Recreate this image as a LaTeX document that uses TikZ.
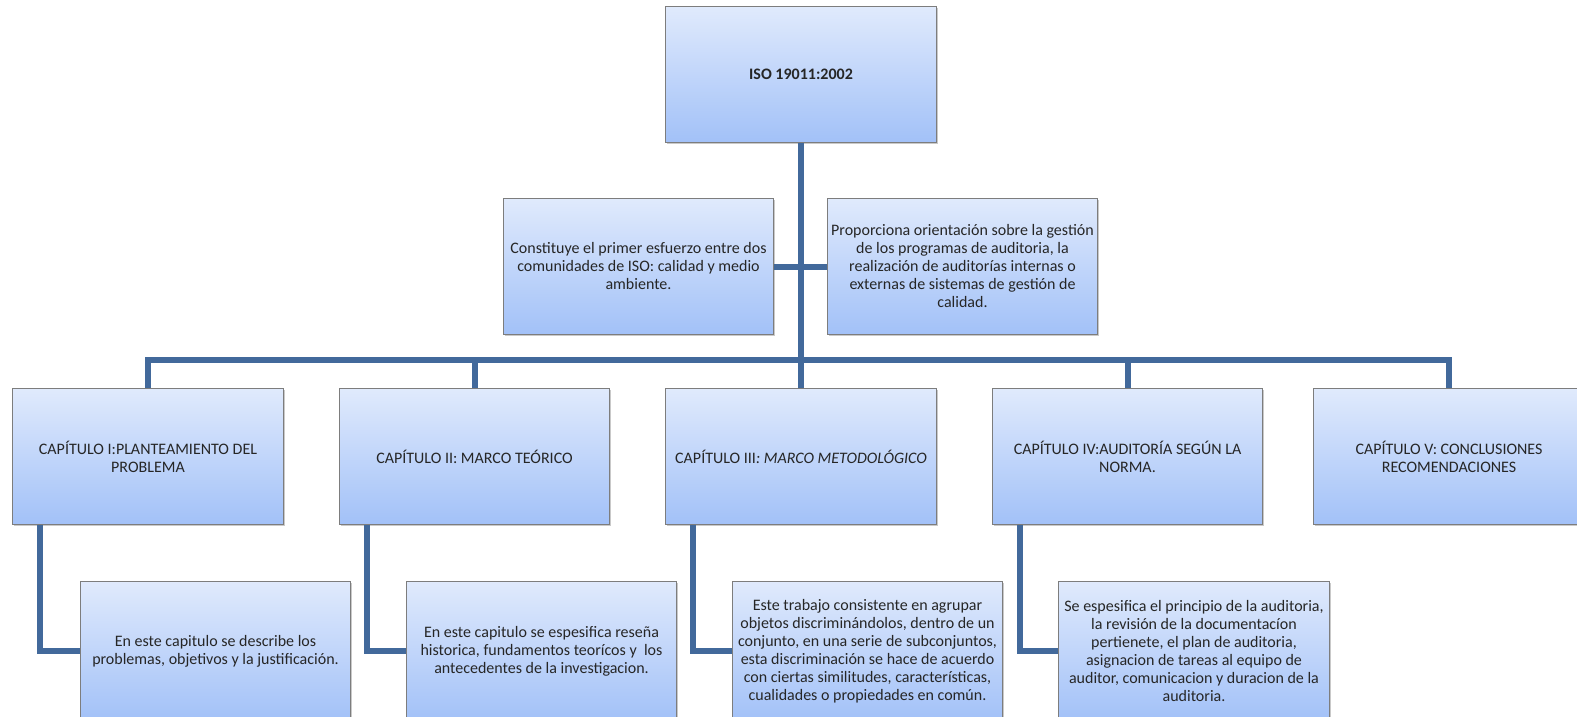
\documentclass[tikz,border=0pt]{standalone}
\usepackage{fontspec}
\setmainfont{Carlito}
\usetikzlibrary{shadows}
\definecolor{boxtop}{RGB}{224,234,252}
\definecolor{boxbottom}{RGB}{162,193,248}
\definecolor{linkblue}{RGB}{66,105,155}
\definecolor{boxedge}{RGB}{125,125,125}
\begin{document}
\begin{tikzpicture}[
    x=0.75pt, y=-0.75pt,
    card/.style={rectangle, draw=boxedge, line width=0.6pt,
      top color=boxtop, bottom color=boxbottom,
      minimum width=203pt, minimum height=102pt, inner sep=2pt, align=center,
      font=\fontsize{12}{13.5}\selectfont, text=black!85,
      drop shadow={shadow xshift=1.2pt, shadow yshift=-1.2pt, opacity=0.35, fill=black!60}},
    link/.style={draw=linkblue, line width=4.5pt}
  ]
  \clip (0,0) rectangle (1577,717);
  \fill[white] (0,0) rectangle (1577,717);
  % boxes
  \node[card, font=\fontsize{12}{13.5}\selectfont\bfseries] (iso) at (801,74.5) {ISO 19011:2002};
  \node[card] (esfuerzo) at (638.5,266.5) {Constituye el primer esfuerzo entre dos\\comunidades de ISO: calidad y medio\\ambiente.};
  \node[card] (gestion) at (962.5,266.5) {Proporciona orientación sobre la gestión\\de los programas de auditoria, la\\realización de auditorías internas o\\externas de sistemas de gestión de\\calidad.};
  \node[card] (cap1) at (148,456.5) {CAPÍTULO I:PLANTEAMIENTO DEL\\PROBLEMA};
  \node[card] (cap2) at (474.5,456.5) {CAPÍTULO II: MARCO TEÓRICO};
  \node[card] (cap3) at (801,456.5) {CAPÍTULO III\textit{: MARCO METODOLÓGICO}};
  \node[card] (cap4) at (1127.5,456.5) {CAPÍTULO IV:AUDITORÍA SEGÚN LA\\NORMA.};
  \node[card] (cap5) at (1449,456.5) {CAPÍTULO V: CONCLUSIONES\\RECOMENDACIONES};
  \node[card, minimum height=105pt] (det1) at (215.5,651) {En este capitulo se describe los\\problemas, objetivos y la justificación.};
  \node[card, minimum height=105pt] (det2) at (541.5,651) {En este capitulo se espesifica reseña\\historica, fundamentos teorícos y \ los\\antecedentes de la investigacion.};
  \node[card, minimum height=105pt] (det3) at (867.5,651) {Este trabajo consistente en agrupar\\objetos discriminándolos, dentro de un\\conjunto, en una serie de subconjuntos,\\esta discriminación se hace de acuerdo\\con ciertas similitudes, características,\\cualidades o propiedades en común.};
  \node[card, minimum height=105pt] (det4) at (1194,651) {Se espesifica el principio de la auditoria,\\la revisión de la documentacíon\\pertienete, el plan de auditoria,\\asignacion de tareas al equipo de\\auditor, comunicacion y duracion de la\\auditoria.};
  % connectors
  \coordinate (bus) at (801,360);
  \draw[link] (iso.south) -- (bus);
  \draw[link] (esfuerzo.east) -- (gestion.west);
  \draw[link] (cap1.north) |- (bus) -| (cap5.north);
  \draw[link] (cap2.north) -- (cap2.north |- bus);
  \draw[link] (cap3.north) -- (bus);
  \draw[link] (cap4.north) -- (cap4.north |- bus);
  % elbows to the detail boxes
  \draw[link] ([xshift=21pt]cap1.south west) |- (det1.west);
  \draw[link] ([xshift=21pt]cap2.south west) |- (det2.west);
  \draw[link] ([xshift=21pt]cap3.south west) |- (det3.west);
  \draw[link] ([xshift=21pt]cap4.south west) |- (det4.west);
\end{tikzpicture}
\end{document}
